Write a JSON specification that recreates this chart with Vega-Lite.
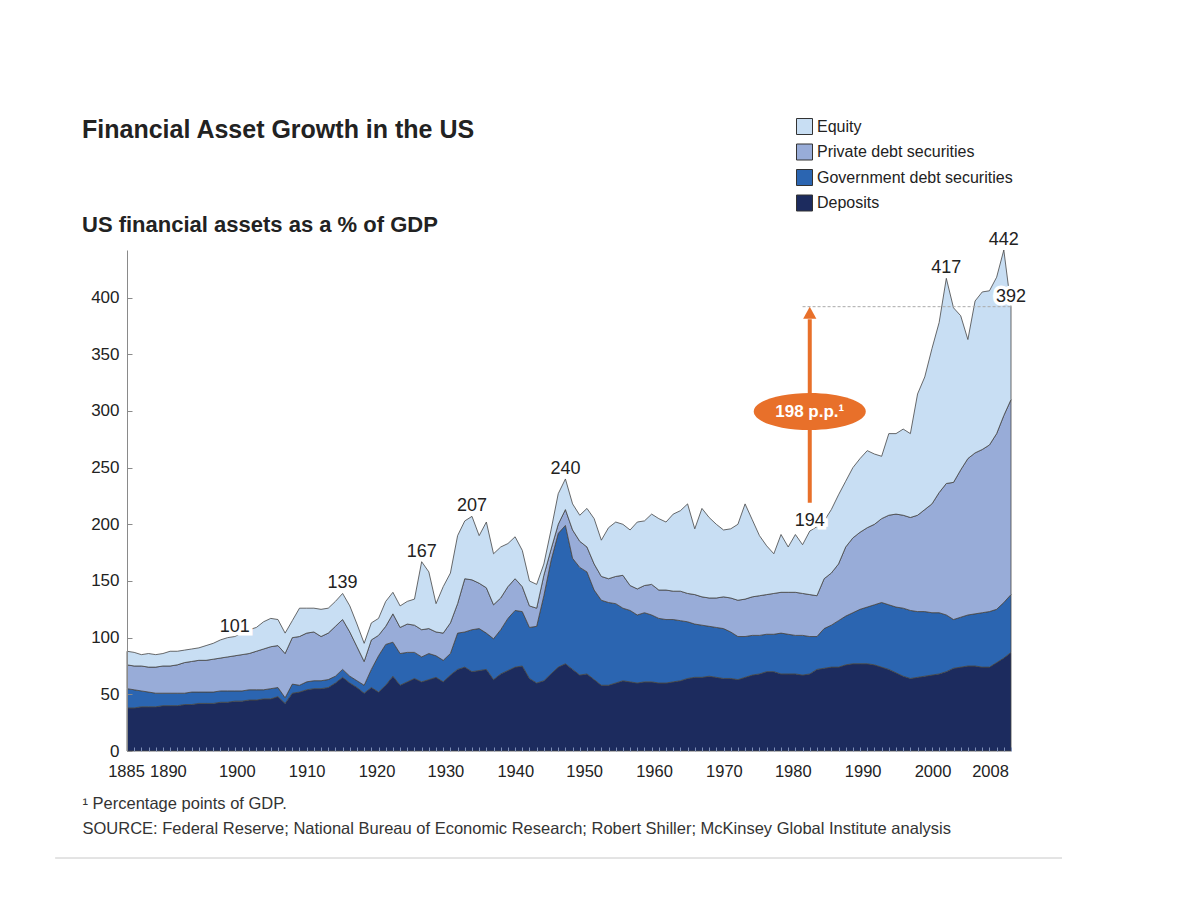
{
  "$schema": "https://vega.github.io/schema/vega-lite/v6.json",
  "width": 884,
  "height": 501,
  "autosize": "none",
  "padding": {"left": 127, "top": 250, "right": 189, "bottom": 149},
  "background": "white",
  "config": {
    "view": {"stroke": null},
    "font": "Liberation Sans",
    "text": {"font": "Liberation Sans"}
  },
  "title": {
    "text": "Financial Asset Growth in the US",
    "subtitle": "US financial assets as a % of GDP",
    "anchor": "start",
    "frame": "group",
    "dx": -45,
    "offset": -118,
    "font": "Liberation Sans",
    "fontSize": 25,
    "fontWeight": "bold",
    "color": "#222222",
    "subtitleFont": "Liberation Sans",
    "subtitleFontSize": 22,
    "subtitleFontWeight": "bold",
    "subtitleColor": "#222222",
    "subtitlePadding": 72
  },
  "datasets": {
    "series": [
      {"key": "dep", "name": "Deposits", "rank": 1},
      {"key": "gov", "name": "Government debt securities", "rank": 2},
      {"key": "priv", "name": "Private debt securities", "rank": 3},
      {"key": "eq", "name": "Equity", "rank": 4}
    ],
    "labels": [
      {"year": 1900, "total": 101},
      {"year": 1915, "total": 139},
      {"year": 1926, "total": 167},
      {"year": 1933, "total": 207},
      {"year": 1946, "total": 240},
      {"year": 1980, "total": 194},
      {"year": 1999, "total": 417},
      {"year": 2007, "total": 442},
      {"year": 2008, "total": 392}
    ],
    "arrow": [
      {"year": 1980, "from": 219, "to": 381, "tip": 392, "mid": 299.5, "text": "198 p.p.¹"}
    ],
    "reference": [
      {"start": 1979, "end": 2008, "level": 392}
    ],
    "separator": [
      {"x1": 1875, "x2": 2015.1, "y": -94.4}
    ],
    "assets": [
      {"year": 1885, "dep": 38, "gov": 17, "priv": 21, "eq": 12},
      {"year": 1886, "dep": 38, "gov": 16, "priv": 21, "eq": 12},
      {"year": 1887, "dep": 39, "gov": 14, "priv": 22, "eq": 10},
      {"year": 1888, "dep": 39, "gov": 13, "priv": 22, "eq": 12},
      {"year": 1889, "dep": 39, "gov": 12, "priv": 23, "eq": 11},
      {"year": 1890, "dep": 40, "gov": 11, "priv": 24, "eq": 11},
      {"year": 1891, "dep": 40, "gov": 11, "priv": 24, "eq": 13},
      {"year": 1892, "dep": 40, "gov": 11, "priv": 25, "eq": 12},
      {"year": 1893, "dep": 41, "gov": 10, "priv": 27, "eq": 11},
      {"year": 1894, "dep": 41, "gov": 11, "priv": 27, "eq": 11},
      {"year": 1895, "dep": 42, "gov": 10, "priv": 28, "eq": 11},
      {"year": 1896, "dep": 42, "gov": 10, "priv": 28, "eq": 13},
      {"year": 1897, "dep": 42, "gov": 10, "priv": 29, "eq": 14},
      {"year": 1898, "dep": 43, "gov": 10, "priv": 29, "eq": 16},
      {"year": 1899, "dep": 43, "gov": 10, "priv": 30, "eq": 17},
      {"year": 1900, "dep": 44, "gov": 9, "priv": 31, "eq": 17},
      {"year": 1901, "dep": 44, "gov": 9, "priv": 32, "eq": 19},
      {"year": 1902, "dep": 45, "gov": 9, "priv": 32, "eq": 21},
      {"year": 1903, "dep": 45, "gov": 9, "priv": 34, "eq": 21},
      {"year": 1904, "dep": 46, "gov": 8, "priv": 36, "eq": 24},
      {"year": 1905, "dep": 46, "gov": 9, "priv": 37, "eq": 25},
      {"year": 1906, "dep": 48, "gov": 8, "priv": 37, "eq": 23},
      {"year": 1907, "dep": 42, "gov": 5, "priv": 39, "eq": 18},
      {"year": 1908, "dep": 51, "gov": 8, "priv": 41, "eq": 15},
      {"year": 1909, "dep": 52, "gov": 6, "priv": 43, "eq": 25},
      {"year": 1910, "dep": 54, "gov": 7, "priv": 43, "eq": 22},
      {"year": 1911, "dep": 55, "gov": 7, "priv": 43, "eq": 21},
      {"year": 1912, "dep": 55, "gov": 7, "priv": 39, "eq": 24},
      {"year": 1913, "dep": 56, "gov": 7, "priv": 41, "eq": 22},
      {"year": 1914, "dep": 60, "gov": 6, "priv": 44, "eq": 22},
      {"year": 1915, "dep": 65, "gov": 7, "priv": 44, "eq": 23},
      {"year": 1916, "dep": 60, "gov": 6, "priv": 39, "eq": 23},
      {"year": 1917, "dep": 56, "gov": 6, "priv": 30, "eq": 20},
      {"year": 1918, "dep": 51, "gov": 7, "priv": 21, "eq": 16},
      {"year": 1919, "dep": 56, "gov": 16, "priv": 26, "eq": 15},
      {"year": 1920, "dep": 52, "gov": 32, "priv": 18, "eq": 15},
      {"year": 1921, "dep": 58, "gov": 36, "priv": 16, "eq": 22},
      {"year": 1922, "dep": 66, "gov": 30, "priv": 25, "eq": 19},
      {"year": 1923, "dep": 58, "gov": 28, "priv": 23, "eq": 19},
      {"year": 1924, "dep": 61, "gov": 26, "priv": 25, "eq": 20},
      {"year": 1925, "dep": 64, "gov": 23, "priv": 24, "eq": 23},
      {"year": 1926, "dep": 61, "gov": 22, "priv": 24, "eq": 60},
      {"year": 1927, "dep": 63, "gov": 23, "priv": 22, "eq": 50},
      {"year": 1928, "dep": 65, "gov": 19, "priv": 21, "eq": 25},
      {"year": 1929, "dep": 61, "gov": 19, "priv": 24, "eq": 41},
      {"year": 1930, "dep": 67, "gov": 19, "priv": 27, "eq": 44},
      {"year": 1931, "dep": 72, "gov": 32, "priv": 26, "eq": 60},
      {"year": 1932, "dep": 74, "gov": 31, "priv": 47, "eq": 51},
      {"year": 1933, "dep": 70, "gov": 37, "priv": 44, "eq": 56},
      {"year": 1934, "dep": 71, "gov": 37, "priv": 40, "eq": 42},
      {"year": 1935, "dep": 72, "gov": 32, "priv": 40, "eq": 58},
      {"year": 1936, "dep": 63, "gov": 36, "priv": 30, "eq": 45},
      {"year": 1937, "dep": 68, "gov": 39, "priv": 28, "eq": 45},
      {"year": 1938, "dep": 71, "gov": 46, "priv": 28, "eq": 38},
      {"year": 1939, "dep": 74, "gov": 50, "priv": 28, "eq": 37},
      {"year": 1940, "dep": 75, "gov": 48, "priv": 22, "eq": 32},
      {"year": 1941, "dep": 64, "gov": 45, "priv": 19, "eq": 22},
      {"year": 1942, "dep": 60, "gov": 50, "priv": 16, "eq": 21},
      {"year": 1943, "dep": 62, "gov": 75, "priv": 18, "eq": 10},
      {"year": 1944, "dep": 68, "gov": 100, "priv": 10, "eq": 17},
      {"year": 1945, "dep": 74, "gov": 118, "priv": 8, "eq": 27},
      {"year": 1946, "dep": 77, "gov": 122, "priv": 14, "eq": 27},
      {"year": 1947, "dep": 72, "gov": 98, "priv": 25, "eq": 23},
      {"year": 1948, "dep": 67, "gov": 95, "priv": 23, "eq": 23},
      {"year": 1949, "dep": 68, "gov": 90, "priv": 22, "eq": 34},
      {"year": 1950, "dep": 63, "gov": 79, "priv": 23, "eq": 40},
      {"year": 1951, "dep": 58, "gov": 75, "priv": 21, "eq": 32},
      {"year": 1952, "dep": 58, "gov": 73, "priv": 21, "eq": 45},
      {"year": 1953, "dep": 60, "gov": 70, "priv": 24, "eq": 48},
      {"year": 1954, "dep": 62, "gov": 64, "priv": 29, "eq": 45},
      {"year": 1955, "dep": 61, "gov": 63, "priv": 22, "eq": 49},
      {"year": 1956, "dep": 60, "gov": 60, "priv": 23, "eq": 59},
      {"year": 1957, "dep": 61, "gov": 61, "priv": 24, "eq": 57},
      {"year": 1958, "dep": 61, "gov": 59, "priv": 27, "eq": 62},
      {"year": 1959, "dep": 60, "gov": 57, "priv": 25, "eq": 63},
      {"year": 1960, "dep": 60, "gov": 56, "priv": 26, "eq": 60},
      {"year": 1961, "dep": 61, "gov": 55, "priv": 25, "eq": 68},
      {"year": 1962, "dep": 62, "gov": 53, "priv": 26, "eq": 71},
      {"year": 1963, "dep": 64, "gov": 50, "priv": 25, "eq": 79},
      {"year": 1964, "dep": 65, "gov": 47, "priv": 26, "eq": 58},
      {"year": 1965, "dep": 65, "gov": 46, "priv": 25, "eq": 78},
      {"year": 1966, "dep": 66, "gov": 44, "priv": 25, "eq": 71},
      {"year": 1967, "dep": 65, "gov": 44, "priv": 26, "eq": 65},
      {"year": 1968, "dep": 64, "gov": 44, "priv": 28, "eq": 59},
      {"year": 1969, "dep": 64, "gov": 41, "priv": 30, "eq": 61},
      {"year": 1970, "dep": 63, "gov": 38, "priv": 32, "eq": 67},
      {"year": 1971, "dep": 65, "gov": 36, "priv": 33, "eq": 84},
      {"year": 1972, "dep": 67, "gov": 35, "priv": 34, "eq": 68},
      {"year": 1973, "dep": 68, "gov": 34, "priv": 35, "eq": 53},
      {"year": 1974, "dep": 70, "gov": 33, "priv": 35, "eq": 43},
      {"year": 1975, "dep": 70, "gov": 33, "priv": 36, "eq": 35},
      {"year": 1976, "dep": 68, "gov": 36, "priv": 36, "eq": 51},
      {"year": 1977, "dep": 68, "gov": 35, "priv": 37, "eq": 40},
      {"year": 1978, "dep": 68, "gov": 34, "priv": 38, "eq": 51},
      {"year": 1979, "dep": 67, "gov": 35, "priv": 37, "eq": 43},
      {"year": 1980, "dep": 68, "gov": 33, "priv": 37, "eq": 56},
      {"year": 1981, "dep": 72, "gov": 29, "priv": 36, "eq": 61},
      {"year": 1982, "dep": 73, "gov": 35, "priv": 44, "eq": 51},
      {"year": 1983, "dep": 74, "gov": 37, "priv": 46, "eq": 56},
      {"year": 1984, "dep": 74, "gov": 41, "priv": 50, "eq": 61},
      {"year": 1985, "dep": 76, "gov": 43, "priv": 61, "eq": 58},
      {"year": 1986, "dep": 77, "gov": 45, "priv": 66, "eq": 62},
      {"year": 1987, "dep": 77, "gov": 48, "priv": 68, "eq": 65},
      {"year": 1988, "dep": 77, "gov": 50, "priv": 70, "eq": 68},
      {"year": 1989, "dep": 76, "gov": 53, "priv": 71, "eq": 62},
      {"year": 1990, "dep": 74, "gov": 57, "priv": 74, "eq": 55},
      {"year": 1991, "dep": 72, "gov": 57, "priv": 79, "eq": 72},
      {"year": 1992, "dep": 69, "gov": 58, "priv": 82, "eq": 71},
      {"year": 1993, "dep": 66, "gov": 60, "priv": 82, "eq": 76},
      {"year": 1994, "dep": 64, "gov": 60, "priv": 82, "eq": 74},
      {"year": 1995, "dep": 65, "gov": 58, "priv": 85, "eq": 107},
      {"year": 1996, "dep": 66, "gov": 57, "priv": 90, "eq": 117},
      {"year": 1997, "dep": 67, "gov": 55, "priv": 96, "eq": 137},
      {"year": 1998, "dep": 68, "gov": 54, "priv": 106, "eq": 150},
      {"year": 1999, "dep": 70, "gov": 50, "priv": 116, "eq": 181},
      {"year": 2000, "dep": 73, "gov": 43, "priv": 121, "eq": 154},
      {"year": 2001, "dep": 74, "gov": 44, "priv": 130, "eq": 136},
      {"year": 2002, "dep": 75, "gov": 45, "priv": 138, "eq": 105},
      {"year": 2003, "dep": 75, "gov": 46, "priv": 142, "eq": 134},
      {"year": 2004, "dep": 74, "gov": 48, "priv": 144, "eq": 139},
      {"year": 2005, "dep": 74, "gov": 49, "priv": 147, "eq": 136},
      {"year": 2006, "dep": 78, "gov": 47, "priv": 155, "eq": 138},
      {"year": 2007, "dep": 82, "gov": 49, "priv": 165, "eq": 146},
      {"year": 2008, "dep": 87, "gov": 51, "priv": 172, "eq": 82}
    ]
  },
  "layer": [
    {
      "data": {"name": "assets"},
      "transform": [
        {"fold": ["dep", "gov", "priv", "eq"], "as": ["key", "value"]},
        {"lookup": "key", "from": {"data": {"name": "series"}, "key": "key", "fields": ["name", "rank"]}}
      ],
      "mark": {"type": "area", "opacity": 1, "strokeWidth": 0.8, "strokeJoin": "round"},
      "encoding": {
        "x": {
          "field": "year", "type": "quantitative",
          "scale": {"domain": [1885, 2008], "nice": false, "zero": false},
          "axis": {
            "values": [1885,1886,1887,1888,1889,1890,1891,1892,1893,1894,1895,1896,1897,1898,1899,1900,1901,1902,1903,1904,1905,1906,1907,1908,1909,1910,1911,1912,1913,1914,1915,1916,1917,1918,1919,1920,1921,1922,1923,1924,1925,1926,1927,1928,1929,1930,1931,1932,1933,1934,1935,1936,1937,1938,1939,1940,1941,1942,1943,1944,1945,1946,1947,1948,1949,1950,1951,1952,1953,1954,1955,1956,1957,1958,1959,1960,1961,1962,1963,1964,1965,1966,1967,1968,1969,1970,1971,1972,1973,1974,1975,1976,1977,1978,1979,1980,1981,1982,1983,1984,1985,1986,1987,1988,1989,1990,1991,1992,1993,1994,1995,1996,1997,1998,1999,2000,2001,2002,2003,2004,2005,2006,2007,2008],
            "tickCount": 200,
            "format": "d",
            "labelExpr": "indexof([1885,1890,1900,1910,1920,1930,1940,1950,1960,1970,1980,1990,2000,2008], datum.value) >= 0 ? datum.label : ''",
            "labelOffset": {
              "condition": [
                {"test": "datum.value == 1885", "value": -1},
                {"test": "datum.value == 1890", "value": 5},
                {"test": "datum.value == 1900", "value": 2},
                {"test": "datum.value == 1920", "value": -2},
                {"test": "datum.value == 1930", "value": -5},
                {"test": "datum.value == 1940", "value": -7},
                {"test": "datum.value == 1950", "value": -10},
                {"test": "datum.value == 1960", "value": -12},
                {"test": "datum.value == 1970", "value": -14},
                {"test": "datum.value == 1980", "value": -17},
                {"test": "datum.value == 1990", "value": -19},
                {"test": "datum.value == 2000", "value": -21},
                {"test": "datum.value == 2008", "value": -21}
              ],
              "value": 0
            },
            "labelOverlap": false,
            "labelFlush": false,
            "labelFontSize": 16.5,
            "labelColor": "#222222",
            "labelFont": "Liberation Sans",
            "labelPadding": 16,
            "domain": false,
            "grid": false,
            "zindex": 1,
            "tickSize": -4,
            "tickColor": "#7d8db5",
            "tickWidth": 1,
            "title": ["¹ Percentage points of GDP.", "SOURCE: Federal Reserve; National Bureau of Economic Research; Robert Shiller; McKinsey Global Institute analysis"],
            "titleAnchor": "start",
            "titleAlign": "left",
            "titleBaseline": "alphabetic",
            "titleX": -45,
            "titleY": 57,
            "titleFont": "Liberation Sans",
            "titleFontSize": 16.5,
            "titleFontWeight": "normal",
            "titleColor": "#333333",
            "titleLineHeight": 25
          }
        },
        "y": {
          "field": "value", "type": "quantitative", "stack": "zero",
          "scale": {"domain": [0, 442], "nice": false},
          "axis": {
            "values": [0, 50, 100, 150, 200, 250, 300, 350, 400],
            "title": null,
            "grid": false,
            "zindex": 1,
            "domainColor": "#8a8a8a",
            "tickColor": "#8a8a8a",
            "tickSize": -5,
            "labelFontSize": 17,
            "labelColor": "#222222",
            "labelFont": "Liberation Sans",
            "labelPadding": 13
          }
        },
        "color": {
          "field": "name", "type": "nominal",
          "scale": {
            "domain": ["Equity", "Private debt securities", "Government debt securities", "Deposits"],
            "range": ["#c8def3", "#98acd8", "#2b65b1", "#1c2b5e"]
          },
          "legend": {
            "title": null,
            "orient": "none",
            "legendX": 669,
            "legendY": -132,
            "symbolType": "square",
            "symbolSize": 256,
            "symbolStrokeColor": "#333333",
            "symbolStrokeWidth": 1,
            "symbolOpacity": 1,
            "labelFontSize": 16,
            "labelFont": "Liberation Sans",
            "labelColor": "#222222",
            "labelOffset": 4,
            "labelLimit": 400,
            "rowPadding": 4.5,
            "padding": 0
          }
        },
        "stroke": {"value": "#454545"},
        "order": {"field": "rank", "type": "quantitative"}
      }
    },
    {
      "data": {"name": "reference"},
      "mark": {"type": "rule", "color": "#aaaaaa", "strokeWidth": 1, "strokeDash": [3, 2]},
      "encoding": {
        "x": {"field": "start", "type": "quantitative"},
        "x2": {"field": "end"},
        "y": {"field": "level", "type": "quantitative"}
      }
    },
    {
      "data": {"name": "labels"},
      "mark": {"type": "text", "baseline": "alphabetic", "dy": -5, "fontSize": 18, "font": "Liberation Sans", "stroke": "white", "strokeWidth": 7, "strokeJoin": "miter", "fill": "white"},
      "encoding": {
        "x": {"field": "year", "type": "quantitative"},
        "y": {"field": "total", "type": "quantitative"},
        "text": {"field": "total", "type": "quantitative"}
      }
    },
    {
      "data": {"name": "labels"},
      "mark": {"type": "text", "baseline": "alphabetic", "dy": -5, "fontSize": 18, "font": "Liberation Sans", "fill": "#222222"},
      "encoding": {
        "x": {"field": "year", "type": "quantitative"},
        "y": {"field": "total", "type": "quantitative"},
        "text": {"field": "total", "type": "quantitative"}
      }
    },
    {
      "data": {"name": "arrow"},
      "mark": {"type": "rule", "color": "#e8702a", "strokeWidth": 4},
      "encoding": {
        "x": {"field": "year", "type": "quantitative"},
        "y": {"field": "from", "type": "quantitative"},
        "y2": {"field": "to"}
      }
    },
    {
      "data": {"name": "arrow"},
      "mark": {"type": "point", "shape": "M 0 0 L 0.55 1 L -0.55 1 Z", "size": 576, "filled": true, "color": "#e8702a", "opacity": 1},
      "encoding": {
        "x": {"field": "year", "type": "quantitative"},
        "y": {"field": "tip", "type": "quantitative"}
      }
    },
    {
      "data": {"name": "arrow"},
      "mark": {"type": "point", "shape": "M -1 0 A 1 0.33 0 1 0 1 0 A 1 0.33 0 1 0 -1 0 Z", "size": 12544, "filled": true, "color": "#e8702a", "opacity": 1},
      "encoding": {
        "x": {"field": "year", "type": "quantitative"},
        "y": {"field": "mid", "type": "quantitative"}
      }
    },
    {
      "data": {"name": "arrow"},
      "mark": {"type": "text", "baseline": "middle", "align": "center", "fontSize": 17, "fontWeight": "bold", "font": "Liberation Sans", "color": "white"},
      "encoding": {
        "x": {"field": "year", "type": "quantitative"},
        "y": {"field": "mid", "type": "quantitative"},
        "text": {"field": "text", "type": "nominal"}
      }
    },
    {
      "data": {"name": "separator"},
      "mark": {"type": "rule", "color": "#c8c8c8", "strokeWidth": 1, "clip": false},
      "encoding": {
        "x": {"field": "x1", "type": "quantitative"},
        "x2": {"field": "x2"},
        "y": {"field": "y", "type": "quantitative"}
      }
    }
  ]
}
